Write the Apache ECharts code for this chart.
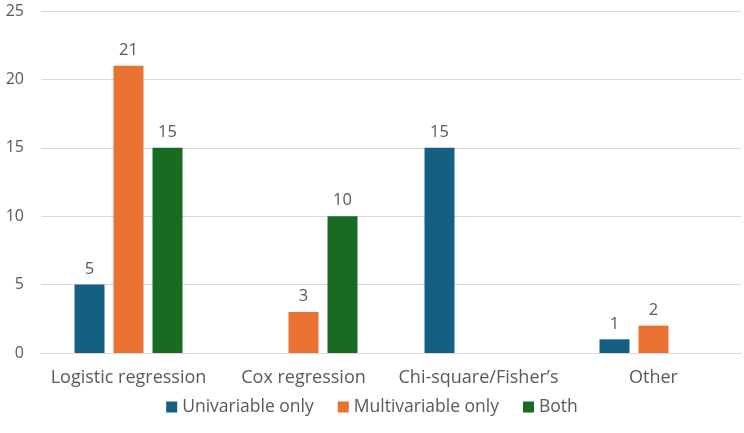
<!DOCTYPE html>
<html><head><meta charset="utf-8">
<script src="https://cdn.jsdelivr.net/npm/echarts@6/dist/echarts.min.js"></script>
<style>html,body{margin:0;padding:0;background:#fff}#c{width:744px;height:433px}</style>
</head><body><div id="c"></div>
<script>
const categories = ['Logistic regression', 'Cox regression', 'Chi-square/Fisher\u2019s', 'Other'];
const univariable = [5, null, 15, 1];
const multivariable = [21, 3, null, 2];
const both = [15, 10, null, null];
const yTicks = [0, 5, 10, 15, 20, 25];
const seriesNames = ['Univariable only', 'Multivariable only', 'Both'];
const colors = ['#156082', '#E97132', '#196B24'];

const font = '"Open Sans", sans-serif';
const toData = arr => arr.map(v => v === null ? '-' : v);
const mk = (name, arr, color) => ({
  name, type: 'bar', data: toData(arr), barWidth: 30, barGap: '30%',
  itemStyle: { color },
  label: { show: true, position: 'top', distance: 7, color: '#595959', fontSize: 16.5, fontFamily: font }
});
const chart = echarts.init(document.getElementById('c'));
chart.setOption({
  animation: false,
  grid: { left: 41, right: 3, top: 11, bottom: 80 },
  legend: {
    bottom: 12, itemWidth: 11, itemHeight: 11, itemGap: 24, icon: 'rect',
    textStyle: { color: '#595959', fontSize: 17.5, fontFamily: font }
  },
  xAxis: {
    type: 'category', data: categories,
    axisLine: { lineStyle: { color: '#d9d9d9', width: 1 } },
    axisTick: { show: false },
    axisLabel: { color: '#595959', fontSize: 18, fontFamily: font, margin: 16, interval: 0 }
  },
  yAxis: {
    type: 'value', min: yTicks[0], max: yTicks[yTicks.length - 1], interval: 5,
    axisLine: { show: false }, axisTick: { show: false },
    axisLabel: { color: '#595959', fontSize: 16, fontFamily: font, margin: 17 },
    splitLine: { lineStyle: { color: '#d9d9d9', width: 1 } }
  },
  series: [
    mk(seriesNames[0], univariable, colors[0]),
    mk(seriesNames[1], multivariable, colors[1]),
    mk(seriesNames[2], both, colors[2])
  ]
});
</script></body></html>
